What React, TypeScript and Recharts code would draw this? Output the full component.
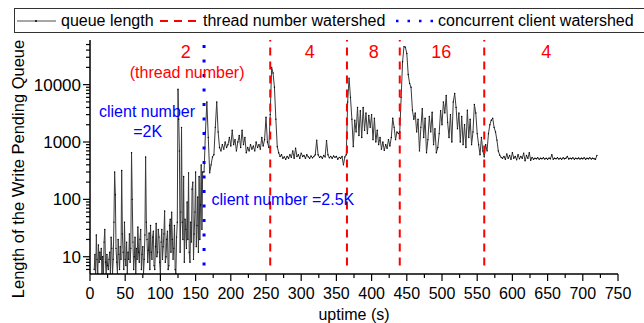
import React from "react";
import {
  LineChart,
  Line,
  XAxis,
  YAxis,
  ReferenceLine,
  ReferenceDot,
} from "recharts";

const FONT = '"Liberation Sans", Arial, Helvetica, sans-serif';

// queue length samples, split by run phase
const SEGMENT_STARTS = [6, 162, 256, 366, 440, 560];
const SEGMENT_STEPS = [1, 2, 2, 2, 2, 2];

const PHASE_2_THREADS_2K = [
  6, 11, 4, 24, 9, 5, 16, 8, 12, 9,
  14, 5, 10, 4, 18, 30, 8, 5, 11, 7,
  6, 9, 12, 5, 22, 14, 5, 9, 40, 300,
  120, 14, 8, 5, 20, 11, 6, 15, 9, 320,
  25, 12, 6, 40, 9, 7, 18, 5, 12, 9,
  25, 8, 14, 650, 100, 18, 6, 10, 22, 5,
  14, 9, 33, 12, 8, 20, 30, 6, 11, 15,
  5, 9, 24, 550, 40, 20, 8, 13, 26, 6,
  35, 12, 9, 22, 28, 7, 6, 15, 38, 10,
  12, 30, 22, 8, 5, 18, 30, 9, 15, 25,
  63, 8, 10, 20, 28, 6, 7, 35, 45, 12,
  60, 20, 9, 14, 35, 6, 5, 22, 40, 8300,
  2500, 700, 12, 60, 1800, 40, 20, 250, 8, 45,
  30, 14, 90, 20, 290, 12, 8, 40, 18, 150,
  200, 9, 25, 60, 300, 15, 35, 110, 12, 250,
  20, 80, 400, 30, 300,
];
const PHASE_2_THREADS_25K = [
  300, 1500, 5000, 1200, 290, 400, 550, 600, 1800, 5000,
  1500, 800, 700, 900, 750, 1000, 800, 900, 1200, 850,
  1600, 900, 1100, 700, 1000, 1300, 800, 1600, 900, 1200,
  650, 800, 700, 900, 750, 850, 700, 1000, 800, 900,
  750, 1200, 850, 1100, 2700, 1000, 800,
];
const PHASE_4_THREADS = [
  3000, 20000, 16000, 9000, 2500, 830, 650, 560, 600, 520,
  550, 500, 560, 520, 600, 540, 700, 520, 780, 560,
  600, 520, 640, 560, 580, 520, 600, 550, 520, 570,
  530, 560, 600, 1080, 600, 540, 560, 520, 580, 550,
  1050, 600, 530, 560, 520, 570, 540, 560, 500, 540,
  520, 560, 400, 550, 600,
];
const PHASE_8_THREADS = [
  5000, 13000, 6000, 2500, 830, 2400, 1500, 4000, 1300, 3500,
  1200, 4000, 1600, 3200, 1400, 2900, 1800, 3000, 1100, 2600,
  1000, 1600, 900, 1200, 750, 1000, 720, 900, 780, 1100,
  850, 1200, 2600, 1800, 1100, 1500, 1400,
];
const PHASE_16_THREADS = [
  1500, 6000, 25000, 46000, 45000, 35000, 15000, 10500, 9000, 3600,
  2500, 3200, 1500, 2500, 700, 1800, 3800, 1200, 2600, 650,
  1100, 2800, 1500, 3300, 900, 1700, 650, 800, 1400, 3500,
  2000, 5000, 3200, 6500, 2200, 1200, 3000, 1000, 5000, 7000,
  4000, 1700, 3200, 1000, 2800, 900, 2000, 800, 3600, 1200,
  2500, 900, 1500, 4500, 3200, 1400, 900, 600, 1200, 700,
];
const PHASE_4_THREADS_AGAIN = [
  550, 900, 700, 1400, 2000, 2400, 2600, 1800, 1500, 1080,
  700, 590, 540, 520, 560, 500, 620, 520, 580, 500,
  650, 520, 560, 490, 600, 510, 560, 520, 640, 470,
  580, 520, 650, 480, 540, 500, 520, 510, 530, 500,
  520, 510, 530, 505, 520, 500, 525, 510, 600, 500,
  520, 510, 530, 505, 520, 500, 530, 510, 520, 560,
  505, 520, 510, 530, 500, 520, 510, 525, 505, 520,
  510, 530, 500, 520, 510, 530, 505, 520, 510, 500,
  580,
];

const SEGMENTS = [
  PHASE_2_THREADS_2K,
  PHASE_2_THREADS_25K,
  PHASE_4_THREADS,
  PHASE_8_THREADS,
  PHASE_16_THREADS,
  PHASE_4_THREADS_AGAIN,
];

const THREAD_WATERSHEDS = [256, 365, 440, 560];
const CLIENT_WATERSHED = 162;

const X_TICKS = [
  0, 25, 50, 75, 100, 125, 150, 175, 200, 225, 250, 275, 300, 325, 350, 375,
  400, 425, 450, 475, 500, 525, 550, 575, 600, 625, 650, 675, 700, 725, 750,
];
const Y_MAJOR = [10, 100, 1000, 10000];
const Y_TICKS = [
  6, 7, 8, 9, 10, 20, 30, 40, 50, 60, 70, 80, 90, 100, 200, 300, 400, 500,
  600, 700, 800, 900, 1000, 2000, 3000, 4000, 5000, 6000, 7000, 8000, 9000,
  10000, 20000, 30000, 40000, 50000,
];

const RED = "#ff0000";
const BLUE = "#0000ff";

// annotation anchors in data units (uptime s, queue length)
const NOTES = [
  { t: 136, q: 38000, text: "2", color: RED, size: 18 },
  { t: 138, q: 16500, text: "(thread number)", color: RED, size: 16 },
  { t: 81, q: 3460, text: "client number", color: BLUE, size: 16 },
  { t: 82, q: 1550, text: "=2K", color: BLUE, size: 16 },
  { t: 274, q: 102, text: "client number =2.5K", color: BLUE, size: 16 },
  { t: 312, q: 38000, text: "4", color: RED, size: 18 },
  { t: 403, q: 38000, text: "8", color: RED, size: 18 },
  { t: 499, q: 38000, text: "16", color: RED, size: 18 },
  { t: 648, q: 38000, text: "4", color: RED, size: 18 },
];

const data = SEGMENTS.flatMap((seg, s) =>
  seg.map((q, i) => ({ t: SEGMENT_STARTS[s] + i * SEGMENT_STEPS[s], q }))
);

function LeftTick(props: any) {
  const { x, y, payload } = props;
  const major = Y_MAJOR.includes(payload.value);
  return (
    <g>
      <line x1={x - (major ? 7 : 4)} x2={x} y1={y} y2={y} stroke="#000" strokeWidth={1.2} />
      {major && (
        <text x={x - 9} y={y} dy="0.36em" textAnchor="end" fontSize={17} fill="#000" fontFamily={FONT}>
          {payload.value}
        </text>
      )}
    </g>
  );
}

function RightTick(props: any) {
  const { x, y, payload } = props;
  const major = Y_MAJOR.includes(payload.value);
  return <line x1={x - (major ? 7 : 4)} x2={x} y1={y} y2={y} stroke="#000" strokeWidth={1.2} />;
}

function BottomTick(props: any) {
  const { x, y, payload } = props;
  const major = payload.value % 50 === 0;
  return (
    <g>
      <line x1={x} x2={x} y1={y} y2={y + (major ? 7 : 4)} stroke="#000" strokeWidth={1.2} />
      {major && (
        <text x={x} y={y + 25} textAnchor="middle" fontSize={16} fill="#000" fontFamily={FONT}>
          {payload.value}
        </text>
      )}
    </g>
  );
}

function YTitle(props: any) {
  const vb = props.viewBox;
  const cx = vb.x + 18;
  const cy = vb.y + vb.height / 2 + 12;
  return (
    <text
      x={cx}
      y={cy}
      transform={`rotate(-90, ${cx}, ${cy})`}
      textAnchor="middle"
      dy="0.36em"
      fontSize={16.5}
      fill="#000"
      fontFamily={FONT}
    >
      Length of the Write Pending Queue
    </text>
  );
}

function LegendBox() {
  const txt: React.CSSProperties = {
    position: "absolute",
    top: 1,
    fontSize: 16,
    lineHeight: "22px",
    fontFamily: FONT,
    color: "#000",
    whiteSpace: "nowrap",
  };
  return (
    <div
      style={{
        position: "absolute",
        left: 14,
        top: 8,
        width: 640,
        height: 23,
        border: "1px solid #333",
        borderRight: "none",
        background: "#fff",
      }}
    >
      <svg style={{ position: "absolute", left: 0, top: 0 }} width={640} height={23}>
        <line x1={2} x2={41} y1={12} y2={12} stroke="#888" strokeWidth={1.5} />
        <circle cx={21} cy={12} r={1} fill="#000" />
        <line x1={145} x2={187} y1={12} y2={12} stroke={RED} strokeWidth={2} strokeDasharray="8 6" />
        <line x1={381} x2={418} y1={12} y2={12} stroke={BLUE} strokeWidth={2.5} strokeDasharray="2.5 9" />
      </svg>
      <span style={{ ...txt, left: 46 }}>queue length</span>
      <span style={{ ...txt, left: 188 }}>thread number watershed</span>
      <span style={{ ...txt, left: 423 }}>concurrent client watershed</span>
    </div>
  );
}

export default function App() {
  return (
    <div style={{ position: "absolute", left: 0, top: 0, width: 644, height: 323, background: "#fff" }}>
      <LineChart
        width={644}
        height={323}
        data={data}
        margin={{ top: 40, right: 26, bottom: 0, left: 0 }}
        style={{ fontFamily: FONT }}
      >
        <XAxis
          xAxisId="B"
          dataKey="t"
          type="number"
          domain={[0, 750]}
          ticks={X_TICKS}
          interval={0}
          tickSize={0}
          tickMargin={0}
          tickLine={false}
          tick={<BottomTick />}
          axisLine={{ stroke: "#000", strokeWidth: 1.5 }}
          height={49}
          label={{ value: "uptime (s)", position: "insideBottom", offset: 3, fontSize: 16, fill: "#000" }}
        />
        <XAxis
          xAxisId="T"
          orientation="top"
          type="number"
          domain={[0, 750]}
          tick={false}
          tickLine={false}
          height={0}
          axisLine={{ stroke: "#000", strokeWidth: 1.5 }}
        />
        <YAxis
          yAxisId="L"
          scale="log"
          domain={[5, 60000]}
          allowDataOverflow
          ticks={Y_TICKS}
          interval={0}
          tickSize={0}
          tickMargin={0}
          tickLine={false}
          tick={<LeftTick />}
          axisLine={{ stroke: "#000", strokeWidth: 1.5 }}
          width={90}
          label={(p: any) => <YTitle {...p} />}
        />
        <YAxis
          yAxisId="R"
          orientation="right"
          scale="log"
          domain={[5, 60000]}
          allowDataOverflow
          ticks={Y_TICKS}
          interval={0}
          tickSize={0}
          tickMargin={0}
          tickLine={false}
          tick={<RightTick />}
          axisLine={{ stroke: "#000", strokeWidth: 1.5 }}
          width={0}
        />
        <Line
          xAxisId="B"
          yAxisId="L"
          type="linear"
          dataKey="q"
          stroke="#3a3a3a"
          strokeWidth={1}
          dot={{ r: 0.7, fill: "#000", stroke: "none" }}
          isAnimationActive={false}
        />
        {THREAD_WATERSHEDS.map((t) => (
          <ReferenceLine
            key={t}
            xAxisId="B"
            yAxisId="L"
            segment={[
              { x: t, y: 7 },
              { x: t, y: 60000 },
            ]}
            stroke={RED}
            strokeWidth={2}
            strokeDasharray="8 6"
          />
        ))}
        <ReferenceLine
          xAxisId="B"
          yAxisId="L"
          segment={[
            { x: CLIENT_WATERSHED, y: 7 },
            { x: CLIENT_WATERSHED, y: 60000 },
          ]}
          stroke={BLUE}
          strokeWidth={3}
          strokeDasharray="3 11.5"
        />
        {NOTES.map((n, i) => (
          <ReferenceDot
            key={i}
            xAxisId="B"
            yAxisId="L"
            x={n.t}
            y={n.q}
            r={0}
            fill="none"
            stroke="none"
            label={{ value: n.text, position: "center", fill: n.color, fontSize: n.size }}
          />
        ))}
      </LineChart>
      <LegendBox />
    </div>
  );
}
